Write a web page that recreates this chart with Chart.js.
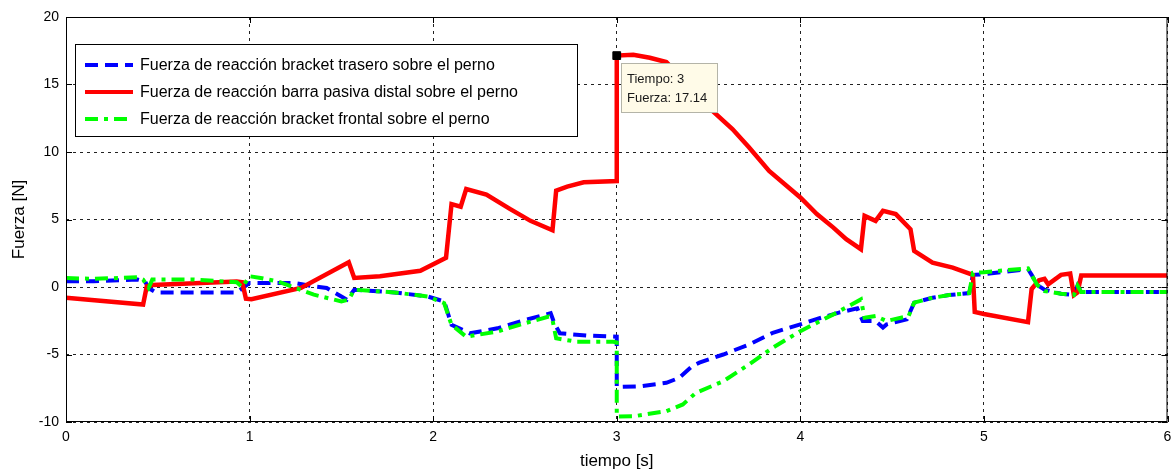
<!DOCTYPE html>
<html>
<head>
  <title>Fuerzas de reacción sobre el perno</title>
  <script src="https://cdn.jsdelivr.net/npm/chart.js"></script>
  <style>
    html, body { margin: 0; padding: 0; background: #fff; }
    #wrap { width: 1174px; height: 472px; }
  </style>
</head>
<body>

<div id="wrap">
  <canvas id="chartFuerza" width="1174" height="472"></canvas>
</div>

<script>
// valores (tiempo [s], fuerza [N])
const traseroT = [0, 0.15, 0.39, 0.43, 0.45, 0.49, 0.93, 0.96, 1.0, 1.24, 1.35, 1.42, 1.5, 1.53, 1.57, 1.79, 1.97, 2.06, 2.1, 2.2, 2.35, 2.47, 2.64, 2.66, 2.69, 2.84, 3.0, 3.0, 3.13, 3.27, 3.34, 3.41, 3.45, 3.58, 3.72, 3.85, 4.0, 4.1, 4.21, 4.31, 4.34, 4.41, 4.45, 4.47, 4.58, 4.62, 4.72, 4.81, 4.92, 4.94, 5.0, 5.24, 5.26, 5.29, 5.33, 5.42, 5.49, 5.51, 5.53, 6.0];
const traseroF = [0.42, 0.42, 0.55, 0.42, -0.07, -0.4, -0.4, -0.1, 0.3, 0.3, 0.05, -0.07, -0.7, -0.94, -0.2, -0.4, -0.7, -1.07, -2.8, -3.43, -3.06, -2.56, -1.94, -2.69, -3.43, -3.6, -3.68, -7.41, -7.35, -7.1, -6.73, -5.87, -5.6, -5.0, -4.26, -3.39, -2.77, -2.33, -1.9, -1.58, -2.52, -2.52, -3.0, -2.77, -2.4, -1.16, -0.8, -0.6, -0.45, 0.9, 0.95, 1.33, 0.9, 0.15, -0.2, -0.5, -0.6, 0.1, -0.37, -0.37];

const barraT = [0, 0.42, 0.44, 0.47, 0.93, 0.96, 0.98, 1.01, 1.28, 1.54, 1.57, 1.71, 1.93, 2.07, 2.1, 2.15, 2.18, 2.29, 2.42, 2.53, 2.65, 2.67, 2.73, 2.82, 3.0, 3.0, 3.09, 3.18, 3.27, 3.4, 3.52, 3.63, 3.72, 3.83, 4.0, 4.09, 4.18, 4.25, 4.33, 4.35, 4.41, 4.45, 4.52, 4.6, 4.62, 4.72, 4.83, 4.94, 4.95, 5.0, 5.24, 5.26, 5.3, 5.33, 5.35, 5.42, 5.47, 5.49, 5.51, 5.53, 6.0];
const barraF = [-0.8, -1.3, 0.05, 0.15, 0.4, 0.35, -0.87, -0.9, -0.07, 1.84, 0.67, 0.8, 1.2, 2.16, 6.14, 5.95, 7.26, 6.84, 5.77, 4.9, 4.2, 7.14, 7.44, 7.76, 7.85, 17.14, 17.2, 16.98, 16.66, 14.8, 13.07, 11.7, 10.35, 8.6, 6.63, 5.4, 4.4, 3.54, 2.8, 5.27, 4.9, 5.64, 5.4, 4.28, 2.67, 1.8, 1.44, 0.9, -1.85, -2.0, -2.6, -0.15, 0.5, 0.6, 0.2, 0.9, 1.0, -0.6, -0.4, 0.85, 0.85];

const frontalT = [0, 0.15, 0.39, 0.42, 0.45, 0.47, 0.7, 0.93, 0.96, 1.0, 1.06, 1.15, 1.24, 1.35, 1.5, 1.54, 1.57, 1.79, 1.97, 2.06, 2.1, 2.18, 2.35, 2.47, 2.63, 2.65, 2.67, 2.78, 2.98, 3.0, 3.0, 3.09, 3.27, 3.36, 3.43, 3.58, 3.72, 3.85, 4.0, 4.18, 4.33, 4.35, 4.41, 4.47, 4.59, 4.62, 4.72, 4.81, 4.92, 4.94, 5.0, 5.24, 5.26, 5.29, 5.33, 5.42, 5.49, 5.51, 5.53, 6.0];
const frontalF = [0.67, 0.6, 0.72, 0.55, -0.07, 0.55, 0.55, 0.35, -0.02, 0.8, 0.67, 0.42, -0.02, -0.57, -1.07, -0.94, -0.2, -0.4, -0.7, -1.2, -2.8, -3.68, -3.3, -2.8, -2.19, -2.44, -3.8, -4.05, -4.05, -4.1, -9.6, -9.58, -9.2, -8.7, -7.85, -6.98, -5.74, -4.5, -3.27, -2.03, -0.92, -2.28, -2.15, -2.52, -2.15, -1.16, -0.8, -0.6, -0.45, 1.05, 1.1, 1.38, 0.9, 0.15, -0.3, -0.5, -0.6, 0.1, -0.37, -0.37];

const marcaT = [3];
const marcaF = [17.14];

const xTicks = [0, 1, 2, 3, 4, 5, 6];
const yTicks = [-10, -5, 0, 5, 10, 15, 20];

const toPts = (t, f) => t.map((v, i) => ({ x: v, y: f[i] }));

const FONT = '"Liberation Sans", Arial, sans-serif';

// leyenda y cuadro del cursor dibujados dentro del area
const extras = {
  id: 'extras',
  afterDatasetsDraw(chart) {
    const ctx = chart.ctx;
    const a = chart.chartArea;
    const sx = chart.scales.x, sy = chart.scales.y;
    ctx.save();

    // marco y marcas de tick hacia adentro
    ctx.strokeStyle = '#000';
    ctx.lineWidth = 1;
    ctx.setLineDash([]);
    ctx.strokeRect(a.left + 0.5, a.top + 0.5, a.right - a.left - 1, a.bottom - a.top - 1);
    ctx.beginPath();
    xTicks.forEach(v => {
      const px = Math.round(sx.getPixelForValue(v)) + 0.5;
      ctx.moveTo(px, a.bottom); ctx.lineTo(px, a.bottom - 6);
      ctx.moveTo(px, a.top); ctx.lineTo(px, a.top + 6);
    });
    yTicks.forEach(v => {
      const py = Math.round(sy.getPixelForValue(v)) + 0.5;
      ctx.moveTo(a.left, py); ctx.lineTo(a.left + 6, py);
      ctx.moveTo(a.right, py); ctx.lineTo(a.right - 6, py);
    });
    ctx.stroke();

    // leyenda
    const lx = a.left + 9, ly = a.top + 27, lw = 502, lh = 92;
    ctx.fillStyle = '#fff';
    ctx.fillRect(lx, ly, lw, lh);
    ctx.strokeStyle = '#000';
    ctx.lineWidth = 1;
    ctx.strokeRect(lx + 0.5, ly + 0.5, lw, lh);
    const orden = [0, 1, 2];
    ctx.font = '16px ' + FONT;
    ctx.textBaseline = 'middle';
    orden.forEach((di, k) => {
      const ds = chart.data.datasets[di];
      const yy = ly + 21 + k * 27;
      ctx.strokeStyle = ds.borderColor;
      ctx.lineWidth = 4;
      ctx.setLineDash(ds.borderDash || []);
      ctx.beginPath();
      ctx.moveTo(lx + 10, yy);
      ctx.lineTo(lx + 58, yy);
      ctx.stroke();
      ctx.setLineDash([]);
      ctx.fillStyle = '#000';
      ctx.fillText(ds.label, lx + 65, yy + 1);
    });

    // cuadro del cursor de datos
    const px = sx.getPixelForValue(marcaT[0]);
    const py = sy.getPixelForValue(marcaF[0]);
    const bx = Math.round(px) + 4, by = Math.round(py) + 7;
    ctx.fillStyle = '#fffbe8';
    ctx.fillRect(bx, by, 96, 49);
    ctx.strokeStyle = '#b4b4a8';
    ctx.lineWidth = 1;
    ctx.strokeRect(bx + 0.5, by + 0.5, 96, 49);
    ctx.fillStyle = '#1a1a1a';
    ctx.font = '13px ' + FONT;
    ctx.fillText('Tiempo: ' + marcaT[0], bx + 6, by + 16);
    ctx.fillText('Fuerza: ' + marcaF[0].toFixed(2), bx + 6, by + 35);

    ctx.restore();
  }
};

new Chart(document.getElementById('chartFuerza').getContext('2d'), {
  type: 'line',
  data: {
    datasets: [
      {
        label: 'Fuerza de reacción bracket trasero sobre el perno',
        data: toPts(traseroT, traseroF),
        borderColor: '#0000ff', borderWidth: 4, borderDash: [13, 7],
        pointRadius: 0, fill: false, tension: 0, order: 3
      },
      {
        label: 'Fuerza de reacción barra pasiva distal sobre el perno',
        data: toPts(barraT, barraF),
        borderColor: '#ff0000', borderWidth: 4.5,
        pointRadius: 0, fill: false, tension: 0, order: 2
      },
      {
        label: 'Fuerza de reacción bracket frontal sobre el perno',
        data: toPts(frontalT, frontalF),
        borderColor: '#00ff00', borderWidth: 4, borderDash: [13, 6, 4, 6],
        pointRadius: 0, fill: false, tension: 0, order: 1
      },
      {
        label: 'cursor',
        data: toPts(marcaT, marcaF),
        showLine: false, pointStyle: 'rect', pointRadius: 5.5,
        pointBackgroundColor: '#000', pointBorderColor: '#000', pointBorderWidth: 1,
        order: 0
      }
    ]
  },
  options: {
    responsive: false,
    animation: false,
    events: [],
    layout: { padding: { top: 17, right: 5, left: 0, bottom: 0 } },
    plugins: {
      legend: { display: false },
      tooltip: { enabled: false }
    },
    scales: {
      x: {
        type: 'linear', min: 0, max: 6,
        afterFit: s => { s.height = 50; s.paddingLeft = 0; s.paddingRight = 0; },
        afterBuildTicks: s => { s.ticks = xTicks.map(v => ({ value: v })); },
        grid: { color: '#222', lineWidth: 1, drawTicks: false },
        border: { display: false, dash: [3, 4] },
        ticks: { color: '#000', font: { family: FONT, size: 14 }, padding: 7 },
        title: { display: true, text: 'tiempo [s]', color: '#000', font: { family: FONT, size: 17 }, padding: { top: 2, bottom: 0 } }
      },
      y: {
        min: -10, max: 20,
        afterFit: s => { s.width = 66; },
        afterBuildTicks: s => { s.ticks = yTicks.map(v => ({ value: v })); },
        grid: { color: '#222', lineWidth: 1, drawTicks: false },
        border: { display: false, dash: [3, 4] },
        ticks: { color: '#000', font: { family: FONT, size: 14 }, padding: 7 },
        title: { display: true, text: 'Fuerza [N]', color: '#000', font: { family: FONT, size: 17 }, padding: { top: 9, bottom: 0 } }
      }
    }
  },
  plugins: [extras]
});
</script>

</body>
</html>
